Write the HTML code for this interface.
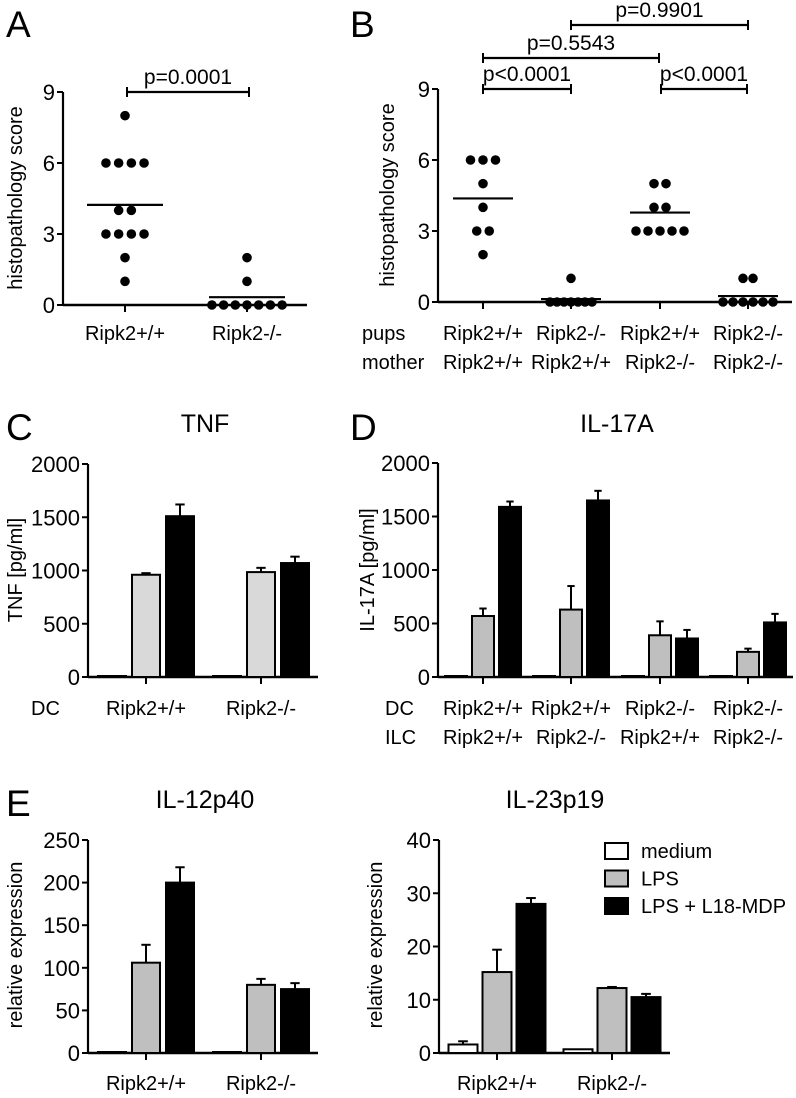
<!DOCTYPE html>
<html><head><meta charset="utf-8"><style>
body{margin:0;background:#fff}
svg{display:block;font-family:"Liberation Sans",Arial,sans-serif}
</style></head><body>
<svg id="fig" width="796" height="1098" viewBox="0 0 796 1098"></svg>
<script>
// ---------- data ----------
const aCats=['Ripk2+/+','Ripk2-/-'];
const aScores=[[8,6,6,6,6,4,4,3,3,3,3,2,1],[2,1,0,0,0,0,0,0,0]];
const aMeans=[4.23,0.33];
const bPups=['Ripk2+/+','Ripk2-/-','Ripk2+/+','Ripk2-/-'];
const bMothers=['Ripk2+/+','Ripk2+/+','Ripk2-/-','Ripk2-/-'];
const bScores=[[6,6,6,5,4,3,3,2],[1,0,0,0,0,0,0,0],[5,5,4,4,3,3,3,3,3],[1,1,0,0,0,0,0,0]];
const bMeans=[4.375,0.125,3.78,0.25];
const scoreTicks=[0,3,6,9];

const cCats=['Ripk2+/+','Ripk2-/-'];
const cMedium=[5,5];
const cLps=[960,985];
const cLpsErr=[15,40];
const cBlack=[1510,1070];
const cBlackErr=[110,60];
const cdTicks=[0,500,1000,1500,2000];

const dDC=['Ripk2+/+','Ripk2+/+','Ripk2-/-','Ripk2-/-'];
const dILC=['Ripk2+/+','Ripk2-/-','Ripk2+/+','Ripk2-/-'];
const dMedium=[5,5,5,5];
const dLps=[570,630,390,235];
const dLpsErr=[70,220,130,30];
const dBlack=[1590,1650,360,510];
const dBlackErr=[50,90,80,80];

const eCats=['Ripk2+/+','Ripk2-/-'];
const e1Medium=[1,0.5];
const e1Lps=[106,80];
const e1LpsErr=[21,7];
const e1Black=[200,75];
const e1BlackErr=[18,7];
const e1Ticks=[0,50,100,150,200,250];
const e2Medium=[1.6,0.7];
const e2MediumErr=[0.6,0];
const e2Lps=[15.2,12.2];
const e2LpsErr=[4.2,0.2];
const e2Black=[28,10.5];
const e2BlackErr=[1.1,0.6];
const e2Ticks=[0,10,20,30,40];
const legendLabels=['medium','LPS','LPS + L18-MDP'];

// ---------- helpers ----------
const svg=document.getElementById('fig');
const NS='http://www.w3.org/2000/svg';
function el(tag,attrs,parent){const e=document.createElementNS(NS,tag);for(const k in attrs)e.setAttribute(k,attrs[k]);(parent||svg).appendChild(e);return e;}
function txt(s,x,y,size,anchor,parent,rot){const t=el('text',{x:x,y:y,'font-size':size,'text-anchor':anchor||'start',fill:'#000'},parent);if(rot)t.setAttribute('transform','rotate(-90 '+x+' '+y+')');t.textContent=s;return t;}
function line(x1,y1,x2,y2,w,parent){return el('line',{x1:x1,y1:y1,x2:x2,y2:y2,stroke:'#000','stroke-width':w||2.2},parent);}

function axes(g,ax,y0,ytop,xend,ticks,ymax,centers){
  const ys=v=>y0-(v/ymax)*(y0-ytop);
  const ya=line(ax,ytop,ax,y0,2.2,g);
  
  const xa=line(ax,y0,xend,y0,2.5,g);
  
  ticks.forEach(t=>{line(ax-6,ys(t),ax,ys(t),2,g);
    const l=txt(String(t),ax-8,ys(t)+8,22,'end',g);
    
    });
  centers.forEach(c=>line(c,y0,c,y0+7,2,g));
  return ys;
}
function panel(name){const g=el('g',{});return g;}

function dotGroup(g,cx,vals,ys,sp,mean,halfW){
  const counts={};vals.forEach(v=>counts[v]=(counts[v]||0)+1);
  const seen={};
  vals.forEach(v=>{const n=counts[v];const i=(seen[v]=(seen[v]||0)+1)-1;
    const c=el('circle',{cx:cx+(i-(n-1)/2)*sp,cy:ys(v),r:4.8,fill:'#000'},g);
    
    });
  const m=line(cx-halfW,ys(mean),cx+halfW,ys(mean),2.2,g);
  
  
}
function pbar(g,x1,x2,y,label){
  line(x1,y,x2,y,2.2,g);line(x1,y-5,x1,y+5,2,g);line(x2,y-5,x2,y+5,2,g);
  const t=txt(label,(x1+x2)/2,y-8,21,'middle',g);
  
  
}
function bar(g,cx,w,v,err,ys,fill,name){
  const y=ys(v),y0=ys(0);
  if(err>0){line(cx,ys(v+err),cx,y,2,g);line(cx-w/6,ys(v+err),cx+w/6,ys(v+err),2,g);}
  const r=el('rect',{x:cx-w/2,y:Math.min(y,y0-1),width:w,height:Math.max(y0-y,1),fill:fill,stroke:'#000','stroke-width':2},g);
  
  
}
function barGroups(g,centers,w,step,ys,med,medErr,lps,lpsErr,blk,blkErr,lpsColor){
  centers.forEach((c,i)=>{
    bar(g,c-step,w,med[i],medErr?medErr[i]:0,ys,'#fff','bar-medium');
    bar(g,c,w,lps[i],lpsErr[i],ys,lpsColor,'bar-lps');
    bar(g,c+step,w,blk[i],blkErr[i],ys,'#000','bar-lps-l18-mdp');
  });
}

// ---------- Panel A ----------
let g=panel('panel-a');
txt('A',6,37,37,'start',g);
let ys=axes(g,63,305,92,307,scoreTicks,9,[125,247]);
const aCenters=[125,247];
dotGroup(g,aCenters[0],aScores[0],ys,12.7,aMeans[0],38);
dotGroup(g,aCenters[1],aScores[1],ys,11.7,aMeans[1],38);
pbar(g,127,249,92,'p=0.0001');
txt('histopathology score',22,198,20,'middle',g,true);
aCats.forEach((c,i)=>txt(c,aCenters[i],340,20,'middle',g));

// ---------- Panel B ----------
g=panel('panel-b');
txt('B',350,37,37,'start',g);
const bCenters=[483,571,660,748];
ys=axes(g,438,302,89,792,scoreTicks,9,bCenters);
const bSp=[12.5,7,12,10];
bScores.forEach((s,i)=>dotGroup(g,bCenters[i],s,ys,bSp[i],bMeans[i],30));
pbar(g,483,571,89,'p<0.0001');
pbar(g,661,747,89,'p<0.0001');
pbar(g,483,659,58,'p=0.5543');
pbar(g,571,748,25,'p=0.9901');
txt('histopathology score',394,195,20,'middle',g,true);
txt('pups',362,340,20,'start',g);txt('mother',362,369,20,'start',g);
bPups.forEach((c,i)=>txt(c,bCenters[i],340,20,'middle',g));
bMothers.forEach((c,i)=>txt(c,bCenters[i],369,20,'middle',g));

// ---------- Panel C ----------
g=panel('panel-c');
txt('C',6,440,37,'start',g);
txt('TNF',205,432,25,'middle',g);
const cCenters=[146,261];
ys=axes(g,88,677,464,318,cdTicks,2000,cCenters);
barGroups(g,cCenters,28,34,ys,cMedium,null,cLps,cLpsErr,cBlack,cBlackErr,'#d9d9d9');
txt('TNF [pg/ml]',22,570,20,'middle',g,true);
txt('DC',31,715,20,'start',g);
cCats.forEach((c,i)=>txt(c,cCenters[i],715,20,'middle',g));

// ---------- Panel D ----------
g=panel('panel-d');
txt('D',350,440,37,'start',g);
txt('IL-17A',617,432,25,'middle',g);
ys=axes(g,438,677,463,793,cdTicks,2000,bCenters);
barGroups(g,bCenters,22,27,ys,dMedium,null,dLps,dLpsErr,dBlack,dBlackErr,'#bfbfbf');
txt('IL-17A [pg/ml]',374,570,20,'middle',g,true);
txt('DC',385,715,20,'start',g);txt('ILC',385,744,20,'start',g);
dDC.forEach((c,i)=>txt(c,bCenters[i],715,20,'middle',g));
dILC.forEach((c,i)=>txt(c,bCenters[i],744,20,'middle',g));

// ---------- Panel E left ----------
g=panel('panel-e-il12p40');
txt('E',6,816,37,'start',g);
txt('IL-12p40',205,808,25,'middle',g);
ys=axes(g,88,1053,840,318,e1Ticks,250,cCenters);
barGroups(g,cCenters,28,34,ys,e1Medium,null,e1Lps,e1LpsErr,e1Black,e1BlackErr,'#bfbfbf');
txt('relative expression',22,945,20,'middle',g,true);
eCats.forEach((c,i)=>txt(c,cCenters[i],1090,20,'middle',g));

// ---------- Panel E right ----------
g=panel('panel-e-il23p19');
txt('IL-23p19',555,808,25,'middle',g);
const e2Centers=[497,612];
ys=axes(g,439,1053,840,670,e2Ticks,40,e2Centers);
barGroups(g,e2Centers,29,34,ys,e2Medium,e2MediumErr,e2Lps,e2LpsErr,e2Black,e2BlackErr,'#bfbfbf');
txt('relative expression',382,945,20,'middle',g,true);
eCats.forEach((c,i)=>txt(c,e2Centers[i],1090,20,'middle',g));
const lg=el('g',{},g);


const lgFill=['#fff','#bfbfbf','#000'];
legendLabels.forEach((s,i)=>{
  const y=843+i*27.5;
  el('rect',{x:605,y:y,width:23,height:16,fill:lgFill[i],stroke:'#000','stroke-width':2},lg);
  const t=txt(s,641,y+15,20,'start',lg);
  
  
});
</script>
</body></html>
